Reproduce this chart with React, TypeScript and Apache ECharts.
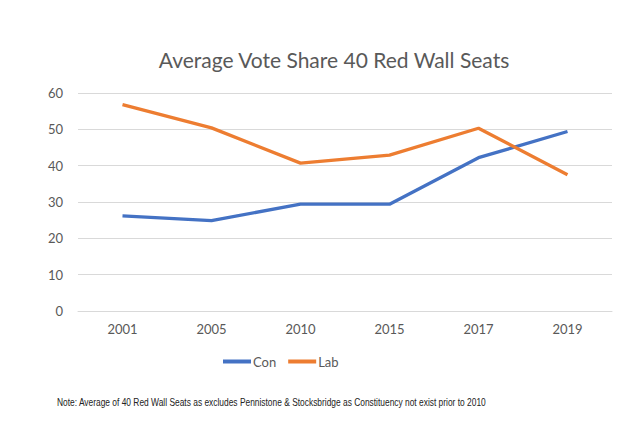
import React, { useEffect, useRef } from "react";
import * as echarts from "echarts";

const years = ["2001", "2005", "2010", "2015", "2017", "2019"];
const con = [26.2, 24.9, 29.4, 29.4, 42.2, 49.4];
const lab = [56.8, 50.4, 40.7, 42.9, 50.3, 37.5];
const yTicks = { min: 0, max: 60, interval: 10 };
const titleText = "Average Vote Share 40 Red Wall Seats";
const noteText =
  "Note: Average of 40 Red Wall Seats as excludes Pennistone & Stocksbridge as Constituency not exist prior to 2010";

export default function App() {
  const ref = useRef<HTMLDivElement>(null);
  useEffect(() => {
    if (!ref.current) return;
    const chart = echarts.init(ref.current, undefined, { renderer: "svg" });
    chart.setOption({
      animation: false,
      backgroundColor: "#ffffff",
      title: {
        text: titleText,
        left: 329,
        textAlign: "center",
        top: 44,
        textStyle: {
          fontFamily: "Lato",
          fontSize: 21,
          fontWeight: "normal",
          color: "#595959",
        },
      },
      legend: {
        left: 218,
        top: 350,
        itemWidth: 28,
        itemHeight: 4,
        itemGap: 12,
        icon: "rect",
        textStyle: { fontFamily: "Lato", fontSize: 13, color: "#595959", padding: [0, 0, 0, -3] },
        data: ["Con", "Lab"],
      },
      grid: { left: 78, right: 28, top: 93, bottom: 122, containLabel: false },
      xAxis: {
        type: "category",
        data: years,
        boundaryGap: true,
        axisLine: { lineStyle: { color: "#d9d9d9" } },
        axisTick: { show: false },
        axisLabel: { color: "#595959", fontFamily: "Lato", fontSize: 13, margin: 11 },
      },
      yAxis: {
        type: "value",
        min: yTicks.min,
        max: yTicks.max,
        interval: yTicks.interval,
        axisLine: { show: false },
        axisTick: { show: false },
        splitLine: { lineStyle: { color: "#d9d9d9" } },
        axisLabel: { color: "#595959", fontFamily: "Lato", fontSize: 13, margin: 15 },
      },
      series: [
        {
          name: "Con",
          type: "line",
          data: con,
          symbol: "none",
          lineStyle: { width: 3.3, color: "#4472C4" },
          itemStyle: { color: "#4472C4" },
        },
        {
          name: "Lab",
          type: "line",
          data: lab,
          symbol: "none",
          lineStyle: { width: 3.3, color: "#ED7D31" },
          itemStyle: { color: "#ED7D31" },
        },
      ],
      graphic: [
        {
          type: "text",
          x: 57,
          y: 402,
          scaleX: 0.8,
          style: {
            text: noteText,
            fontFamily: "Liberation Sans",
            fontSize: 10.5,
            fill: "#222222",
            verticalAlign: "middle",
          },
        },
      ],
    });
    return () => chart.dispose();
  }, []);
  return (
    <div
      ref={ref}
      style={{ position: "fixed", left: 0, top: 0, width: 640, height: 433 }}
    />
  );
}
